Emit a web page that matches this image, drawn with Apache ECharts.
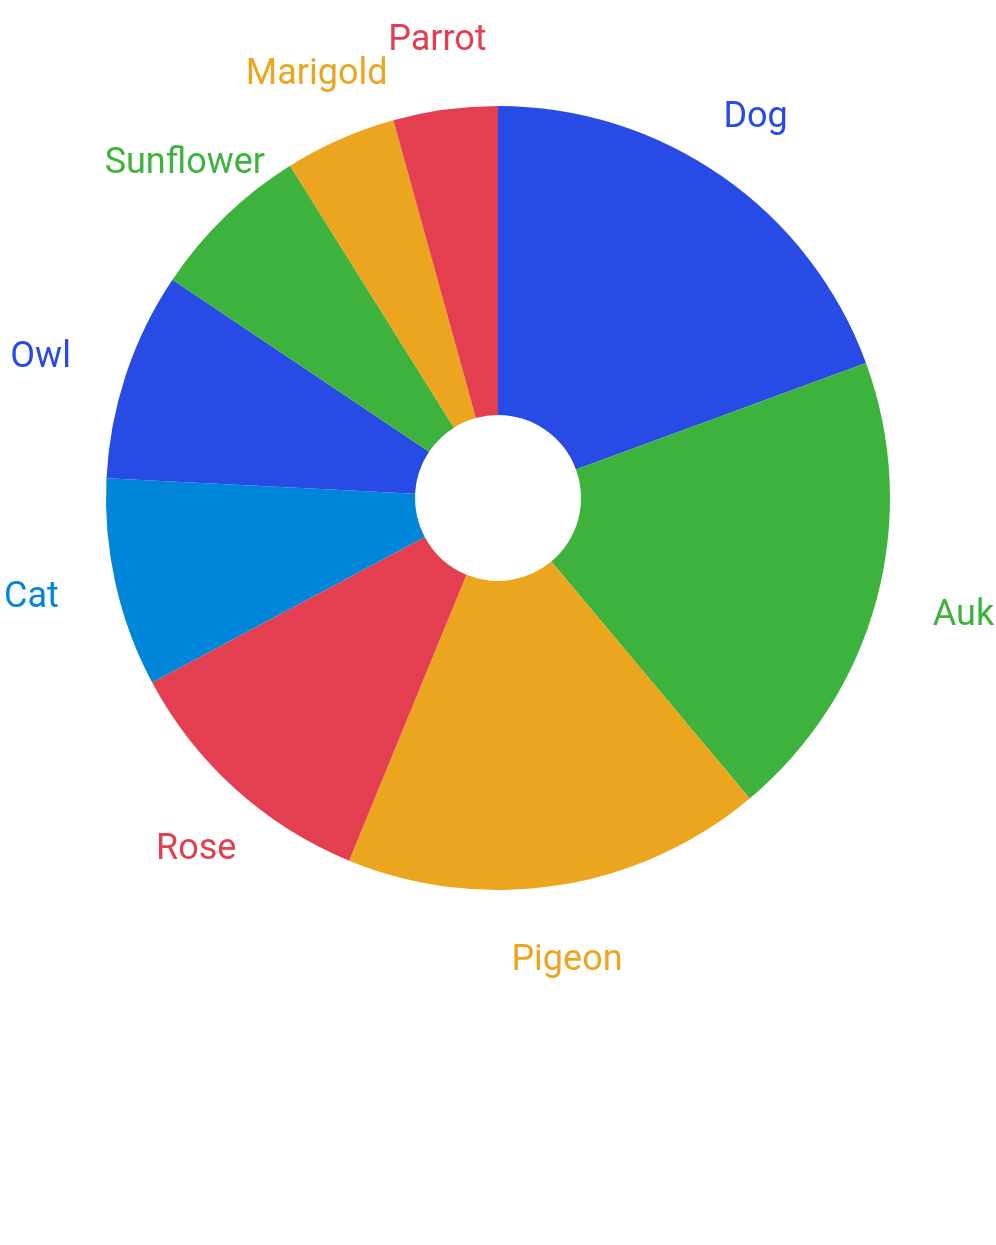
<!DOCTYPE html>
<html>
<head>
<meta charset="utf-8">
<script src="https://cdn.jsdelivr.net/npm/echarts@6/dist/echarts.min.js"></script>
<style>
  html, body { margin: 0; padding: 0; background: #ffffff; }
  #chart { width: 996px; height: 1245px; }
</style>
</head>
<body>
<div id="chart"></div>
<script>
const categories = ['Dog', 'Auk', 'Pigeon', 'Rose', 'Cat', 'Owl', 'Sunflower', 'Marigold', 'Parrot'];
const values = [19.4, 19.5, 17.3, 11.0, 8.6, 8.6, 6.7, 4.6, 4.3];
const palette = ['#274BE4', '#3DB33D', '#ECA51F', '#E33F51', '#0086D9'];

const CENTER = [498, 498];
const RADII = [83, 392];
const LABEL_R = 450;
const FONT_SIZE = 36;

const total = values.reduce((a, b) => a + b, 0);
function midAngle(i) {
  let before = 0;
  for (let k = 0; k < i; k++) before += values[k];
  return ((before + values[i] / 2) / total) * 2 * Math.PI; // clockwise from top
}

const chart = echarts.init(document.getElementById('chart'), null, { renderer: 'canvas' });
chart.setOption({
  animation: false,
  backgroundColor: '#ffffff',
  color: palette,
  series: [{
    type: 'pie',
    center: CENTER,
    radius: RADII,
    startAngle: 90,
    clockwise: true,
    avoidLabelOverlap: false,
    itemStyle: { borderWidth: 0 },
    label: {
      show: true,
      position: 'outside',
      color: 'inherit',
      fontFamily: 'Roboto',
      fontSize: FONT_SIZE,
      formatter: '{b}'
    },
    labelLine: { show: false },
    emphasis: { disabled: true },
    labelLayout: function (params) {
      const a = midAngle(params.dataIndex);
      const s = Math.sin(a), c = Math.cos(a);
      let x = CENTER[0] + LABEL_R * s;
      let y = CENTER[1] - LABEL_R * c;
      let align = 'center', verticalAlign = 'middle';
      if (Math.abs(c) >= Math.abs(s) * 0.9) {
        if (c > 0) {
          verticalAlign = 'bottom';
          y += FONT_SIZE * 0.2;
        } else {
          verticalAlign = 'top';
        }
      } else {
        align = s > 0 ? 'left' : 'right';
        y += 1.5;
      }
      return { x: x, y: y, align: align, verticalAlign: verticalAlign };
    },
    data: categories.map((name, i) => ({ name: name, value: values[i] }))
  }]
});
</script>
</body>
</html>
